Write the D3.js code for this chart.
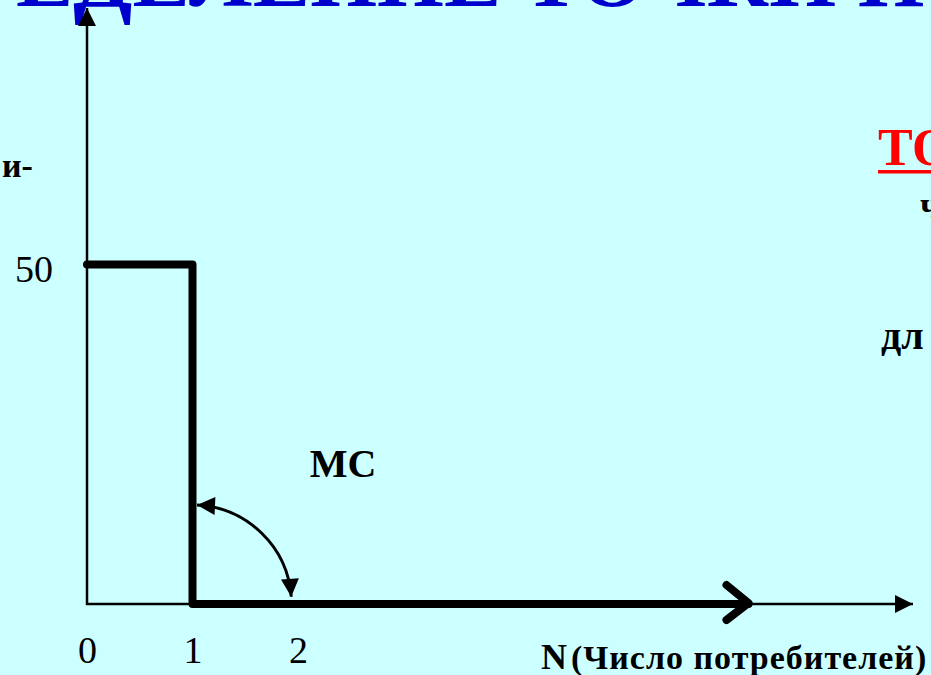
<!DOCTYPE html>
<html>
<head>
<meta charset="utf-8">
<script src="https://cdn.jsdelivr.net/npm/d3@7"></script>
<style>
  html, body { margin: 0; padding: 0; background: #ccffff; overflow: hidden; }
  svg { display: block; font-family: "Liberation Serif", "Times New Roman", serif; }
</style>
</head>
<body>
<svg width="931" height="675"></svg>
<script>
// step of marginal cost: first consumer costs 50, every next one costs 0
var mcN = [0, 1, 1, 6.27];
var mcCost = [50, 50, 0, 0];
var xTicks = [0, 1, 2];
var yTicks = [50];

var svg = d3.select("svg");

var x = d3.scaleLinear().domain([0, 1]).range([87, 192.5]);
var y = d3.scaleLinear().domain([0, 50]).range([604, 264.5]);

// arrow heads
var defs = svg.append("defs");
defs.append("marker")
    .attr("id", "head")
    .attr("viewBox", "0 0 10 10")
    .attr("refX", 10).attr("refY", 5)
    .attr("markerUnits", "userSpaceOnUse")
    .attr("markerWidth", 20).attr("markerHeight", 18)
    .attr("orient", "auto-start-reverse")
    .append("path")
    .attr("d", "M0,0 L10,5 L0,10 Z")
    .attr("fill", "#000");

// title, cut by the top of the slide
var title = svg.append("text")
    .attr("y", 6)
    .attr("font-size", 86)
    .attr("font-weight", "bold")
    .attr("fill", "#0000cc")
    .text("ОПРЕДЕЛЕНИЕ ТОЧКИ П");
var shift = title.node().getSubStringLength(0, 3);
title.attr("x", 16 - shift);

// axes lines
svg.append("line")
    .attr("x1", x(0)).attr("y1", y(0) + 1)
    .attr("x2", x(0)).attr("y2", 8)
    .attr("stroke", "#000").attr("stroke-width", 2.5)
    .attr("marker-end", "url(#head)");

svg.append("line")
    .attr("x1", x(0) - 1).attr("y1", y(0))
    .attr("x2", 913).attr("y2", y(0))
    .attr("stroke", "#000").attr("stroke-width", 2.5)
    .attr("marker-end", "url(#head)");

// tick labels
var xAxis = svg.append("g")
    .attr("transform", "translate(0," + y(0) + ")")
    .call(d3.axisBottom(x).tickValues(xTicks).tickSize(0).tickFormat(d3.format("d")));
xAxis.select(".domain").remove();
xAxis.selectAll("text")
    .attr("y", 59).attr("dy", 0)
    .attr("font-family", "Liberation Serif, serif")
    .attr("font-size", 38)
    .attr("fill", "#000");

var yAxis = svg.append("g")
    .attr("transform", "translate(" + x(0) + ",0)")
    .call(d3.axisLeft(y).tickValues(yTicks).tickSize(0).tickPadding(34));
yAxis.select(".domain").remove();
yAxis.selectAll("text")
    .attr("dy", "0.46em")
    .attr("font-family", "Liberation Serif, serif")
    .attr("font-size", 38)
    .attr("fill", "#000");

// MC step line
var mcLine = d3.line()
    .x(function (d) { return x(d[0]); })
    .y(function (d) { return y(d[1]); });

var pts = mcN.map(function (n, i) { return [n, mcCost[i]]; });

svg.append("path")
    .datum(pts)
    .attr("d", mcLine)
    .attr("fill", "none")
    .attr("stroke", "#000")
    .attr("stroke-width", 8)
    .attr("stroke-linecap", "round")
    .attr("stroke-linejoin", "round");

// open chevron at the end of the thick line
var end = pts[pts.length - 1];
var ex = x(end[0]), ey = y(end[1]) - 1;
svg.append("path")
    .attr("d", "M" + (ex - 22) + "," + (ey - 18) + "L" + ex + "," + ey + "L" + (ex - 22) + "," + (ey + 17))
    .attr("fill", "none")
    .attr("stroke", "#000")
    .attr("stroke-width", 8)
    .attr("stroke-linecap", "round")
    .attr("stroke-linejoin", "round");

// curved double arrow between the vertical and the horizontal part
var p = d3.path();
p.arc(x(1), y(0), 99, -87.4 * Math.PI / 180, -4.2 * Math.PI / 180, false);
svg.append("path")
    .attr("d", p.toString().replace(/^L/, "M"))
    .attr("fill", "none")
    .attr("stroke", "#000")
    .attr("stroke-width", 3)
    .attr("marker-start", "url(#head)")
    .attr("marker-end", "url(#head)");

// labels
svg.append("text")
    .attr("x", 343).attr("y", 477)
    .attr("text-anchor", "middle")
    .attr("font-size", 40).attr("font-weight", "bold")
    .text("MC");

var xl = svg.append("text")
    .attr("x", 541).attr("y", 669)
    .attr("font-weight", "bold");
xl.append("tspan").attr("font-size", 36).text("N");
xl.append("tspan").attr("font-size", 34).attr("dx", 4)
    .attr("letter-spacing", 1)
    .text("(Число потребителей)");

svg.append("text")
    .attr("x", 2).attr("y", 177)
    .attr("font-size", 34).attr("font-weight", "bold")
    .text("и-");

// right-hand text, cut by the slide edge
svg.append("text")
    .attr("x", 878).attr("y", 165)
    .attr("font-size", 52).attr("font-weight", "bold")
    .attr("fill", "#ff0000")
    .text("ТО");
svg.append("rect")
    .attr("x", 878).attr("y", 170)
    .attr("width", 60).attr("height", 3.5)
    .attr("fill", "#ff0000");

svg.append("text")
    .attr("x", 920).attr("y", 217)
    .attr("font-size", 36).attr("font-weight", "bold")
    .text("ч");

svg.append("text")
    .attr("x", 881).attr("y", 349)
    .attr("font-size", 40).attr("font-weight", "bold")
    .text("дл");
</script>
</body>
</html>
